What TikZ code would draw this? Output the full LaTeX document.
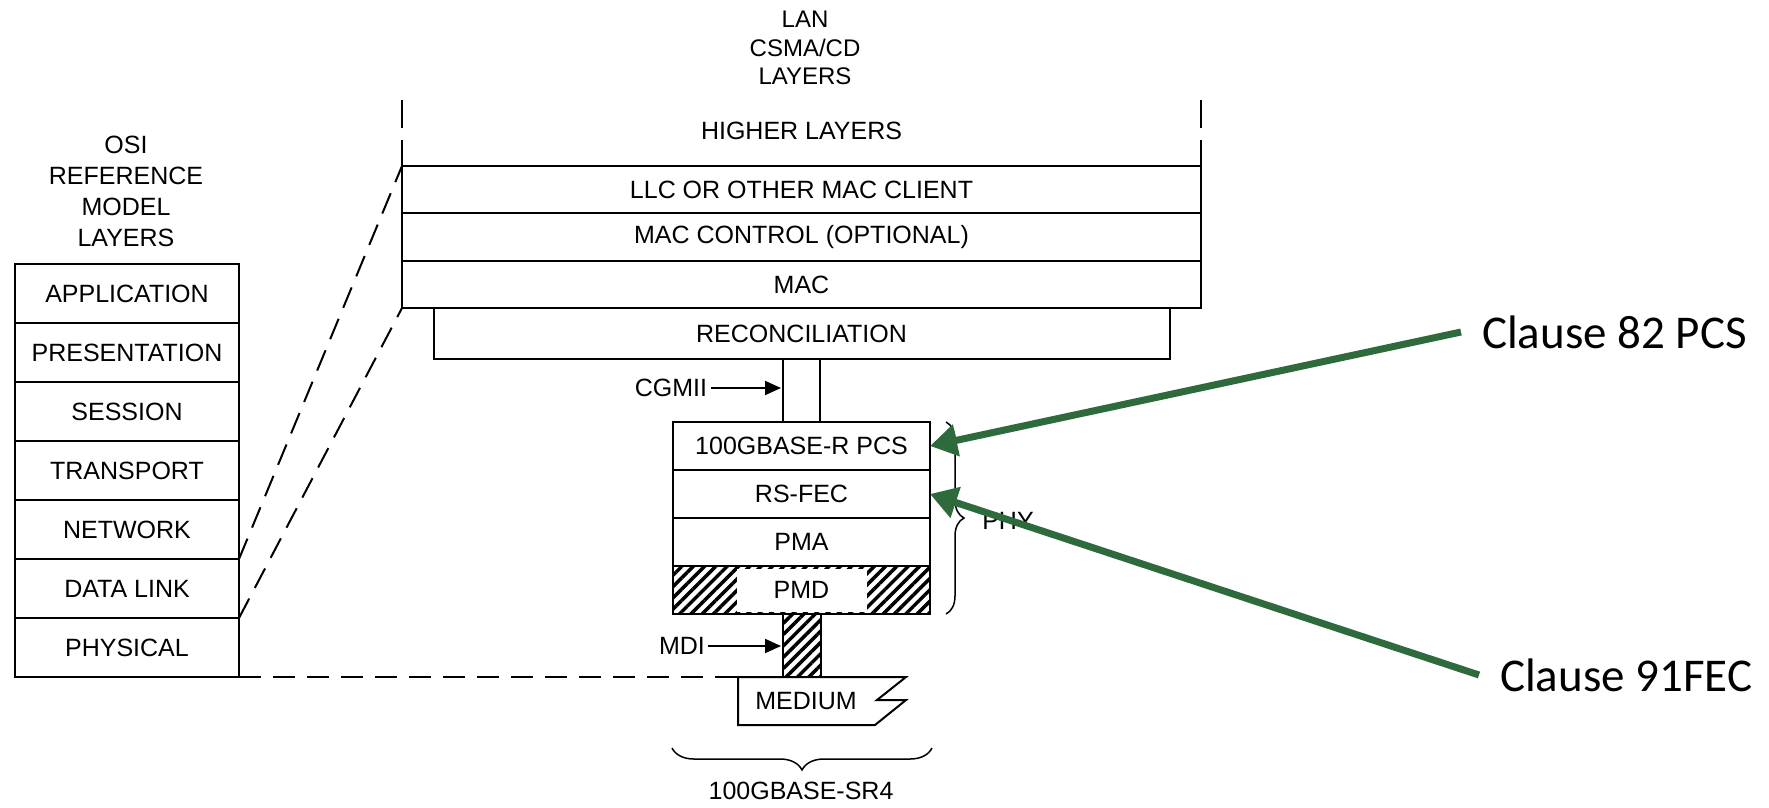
\documentclass[tikz,border=0pt]{standalone}
\usepackage{fontspec}
\setmainfont{Liberation Sans}
\newfontfamily\clausefont{Carlito}
\usetikzlibrary{arrows.meta, positioning, patterns.meta, decorations.pathreplacing}
\newcommand{\labelsize}{\fontsize{25}{31}\selectfont}
\newcommand{\lansize}{\fontsize{24}{28.5}\selectfont}
\newcommand{\clausesize}{\clausefont\fontsize{47}{56}\selectfont}
\definecolor{clausegreen}{RGB}{46,106,60}
\tikzstyle{osilayer} = [rectangle, draw=black, line width=2pt, minimum width=224pt, minimum height=59pt, inner sep=0pt, outer sep=0pt, font=\labelsize]
\tikzstyle{lanlayer} = [rectangle, draw=black, line width=2pt, minimum width=799pt, minimum height=48pt, inner sep=0pt, outer sep=0pt, font=\labelsize]
\tikzstyle{phylayer} = [rectangle, draw=black, line width=2pt, minimum width=257pt, minimum height=48pt, inner sep=0pt, outer sep=0pt, font=\labelsize]
\tikzstyle{heading} = [align=center, font=\labelsize]
\tikzstyle{hatch} = [pattern={Lines[angle=45, distance=8pt, line width=3.5pt]}]
\tikzstyle{guide} = [line width=2pt, dash pattern=on 22pt off 12pt]
\tikzstyle{arrow} = [line width=2pt, -{Triangle[length=16pt, width=14pt]}]
\tikzstyle{bracket} = [line width=1.5pt, decorate]
\tikzstyle{clause} = [font=\clausesize, inner sep=0pt, outer xsep=21pt, anchor=west]
\tikzstyle{greenarrow} = [line width=7pt, draw=clausegreen, -{Triangle[length=27pt, width=31pt]}]
\begin{document}
\begin{tikzpicture}[x=1pt, y=-1pt]
\useasboundingbox (0,0) rectangle (1769,807);
% OSI model
\node (osititle) [heading] at (126,191.5) {OSI\\REFERENCE\\MODEL\\LAYERS};
\node (app) [osilayer] at (127,293.5) {APPLICATION};
\node (pres) [osilayer, below=0pt of app] {PRESENTATION};
\node (sess) [osilayer, below=0pt of pres] {SESSION};
\node (trans) [osilayer, below=0pt of sess] {TRANSPORT};
\node (net) [osilayer, below=0pt of trans] {NETWORK};
\node (dlink) [osilayer, below=0pt of net] {DATA LINK};
\node (phys) [osilayer, below=0pt of dlink] {PHYSICAL};
% LAN layers
\node (lantitle) [heading, font=\lansize] at (805,48) {LAN\\CSMA/CD\\LAYERS};
\node (higher) [font=\labelsize] at (801.5,131) {HIGHER LAYERS};
\node (llc) [lanlayer, minimum height=47pt] at (801.5,189.5) {LLC OR OTHER MAC CLIENT};
\node (macctl) [lanlayer, below=0pt of llc] {MAC CONTROL (OPTIONAL)};
\node (mac) [lanlayer, minimum height=47pt, below=0pt of macctl] {MAC};
\node (recon) [lanlayer, minimum width=736pt, minimum height=51pt, below=0pt of mac] {RECONCILIATION};
\draw [line width=2pt] (402,100) -- (402,128) (402,140) -- (llc.north west);
\draw [line width=2pt] (1201,100) -- (1201,128) (1201,140) -- (llc.north east);
% PHY
\node (pcs) [phylayer] at (801.5,446) {100GBASE-R PCS};
\node (rsfec) [phylayer, below=0pt of pcs] {RS-FEC};
\node (pma) [phylayer, below=0pt of rsfec] {PMA};
\node (pmd) [phylayer, hatch, below=0pt of pma] {};
\node (pmdtext) [fill=white, minimum width=130pt, minimum height=43pt, inner sep=0pt, font=\labelsize] at (pmd) {PMD};
\node (mdi) [rectangle, draw=black, line width=2pt, hatch, minimum width=38pt, minimum height=63pt, inner sep=0pt, outer sep=0pt, below=0pt of pmd] {};
\draw [line width=2pt] ([xshift=-18.5pt]recon.south) -- ([xshift=-18.5pt]pcs.north);
\draw [line width=2pt] ([xshift=18.5pt]recon.south) -- ([xshift=18.5pt]pcs.north);
\coordinate (medtop) at (738,677);
\draw [line width=2pt] (medtop) -- (906,677) -- (877,700) -- (906,700) -- (875,725) -- (738,725) -- cycle;
\node (medium) [font=\labelsize] at (806,701) {MEDIUM};
\node (cgmii) [font=\labelsize] at (671,388) {CGMII};
\coordinate (cgmiiwire) at (781,388);
\draw [arrow] (cgmii) -- (cgmiiwire);
\node (mdilabel) [font=\labelsize] at (682,646) {MDI};
\coordinate (mdiwire) at (781,646);
\draw [arrow] (mdilabel) -- (mdiwire);
% dashed guides
\draw [guide] (net.south east) -- (llc.north west);
\draw [guide] (dlink.south east) -- (mac.south west);
\draw [guide] (phys.south east) -- (medtop);
% braces
\draw [bracket, decoration={brace, amplitude=18pt}] ([xshift=16pt]pcs.north east) -- ([xshift=16pt]pmd.south east);
\node (phy) [font=\labelsize] at (1008,521) {PHY};
\draw [bracket, decoration={brace, amplitude=22pt}] (932,748) -- (672,748);
\node (sr4) [font=\labelsize] at (801,791) {100GBASE-SR4};
% clauses
\node (c82) [clause] at (1461,332) {Clause 82 PCS};
\node (c91) [clause] at (1479,675) {Clause 91FEC};
\draw [greenarrow] (c82.west) -- (pcs.east);
\draw [greenarrow] (c91.west) -- (rsfec.east);
\end{tikzpicture}
\end{document}
